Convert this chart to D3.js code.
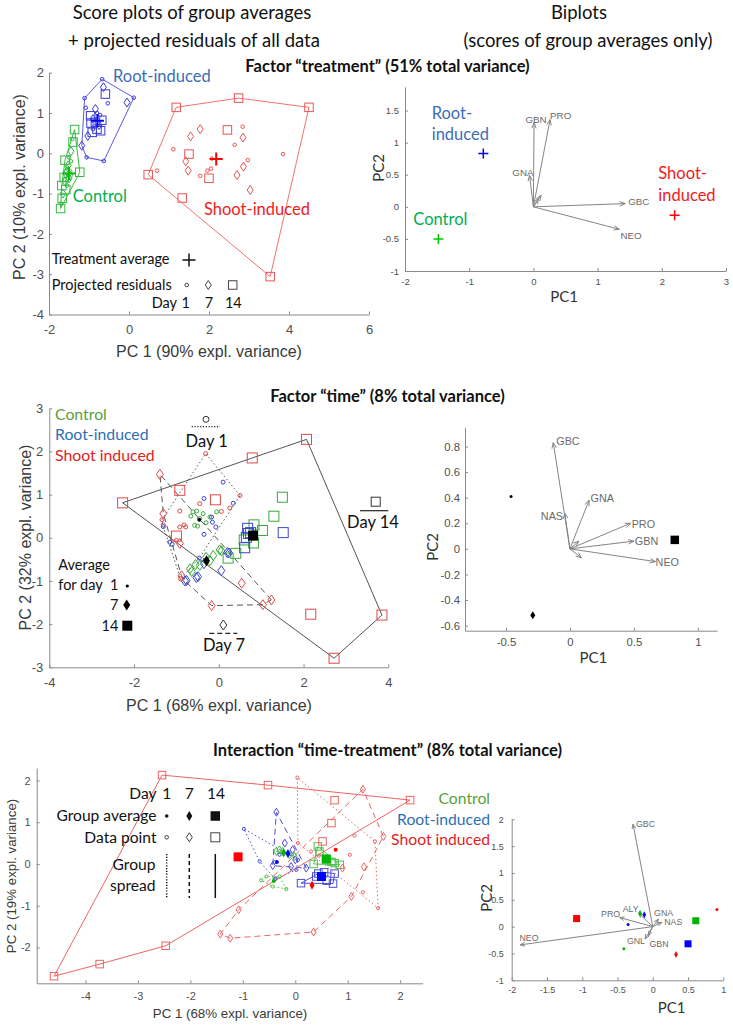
<!DOCTYPE html>
<html><head><meta charset="utf-8">
<script src="https://cdn.jsdelivr.net/npm/d3@7/dist/d3.min.js"></script>
<style>body{margin:0;background:#fff}svg{display:block}</style>
</head><body>
<script>
// ================= DATA =================
const dayLabels = ["1", "7", "14"];
// Panel 1 : Factor "treatment" score plot (PC1, PC2) – projected residuals by day
const trTicksX = [-2, 0, 2, 4, 6];
const trTicksY = [-4, -3, -2, -1, 0, 1, 2];
const trCtrlD1  = [[-1.42,0.35],[-1.45,-0.2],[-1.5,-0.1],[-1.55,-0.35],[-1.47,-0.45],[-1.52,-0.55],[-1.62,-0.65],[-1.55,-0.8],[-1.7,-1.25]];
const trCtrlD7  = [[-1.45,0.05],[-1.52,-0.3],[-1.55,-0.45],[-1.48,-0.55],[-1.6,-0.7],[-1.58,-0.5],[-1.5,-0.62],[-1.65,-1.0]];
const trCtrlD14 = [[-1.36,0.59],[-1.40,0.28],[-1.60,-0.17],[-1.23,-0.47],[-1.62,-0.60],[-1.68,-0.80],[-1.58,-0.90],[-1.67,-1.12],[-1.71,-1.37]];
const trRootD1  = [[-0.67,1.84],[0.12,1.38],[-0.63,-0.19],[-1.06,-0.10],[-1.11,1.37],[-0.53,1.24],[-1.08,1.13],[-0.8,1.0],[-0.9,0.6],[-0.72,0.95]];
const trRootD7  = [[-0.64,1.64],[-0.05,1.26],[-0.84,1.10],[-1.03,0.43],[-1.18,0.19],[-0.75,0.7],[-0.9,0.85]];
const trRootD14 = [[-0.59,1.47],[-0.96,0.93],[-0.92,0.52],[-0.71,0.56],[-0.84,0.77],[-0.95,0.75],[-0.8,0.6],[-0.68,0.82]];
const trShootD1  = [[2.84,0.66],[2.64,0.21],[1.11,0.1],[3.85,-0.02],[2.97,-0.17],[0.7,-0.43],[1.78,-0.56],[1.96,-0.43],[2.05,-0.38],[2.07,-0.13]];
const trShootD7  = [[1.78,0.6],[1.54,0.42],[2.85,0.39],[1.42,-0.2],[1.48,-0.43],[2.86,-0.33],[2.7,-0.54],[3.03,-0.91]];
const trShootD14 = [[1.18,1.14],[2.74,1.37],[4.5,1.14],[3.53,-3.06],[1.33,-1.11],[0.48,-0.53],[2.46,0.58],[1.5,-0.02],[2.0,-0.62]];
const trAverages = [[-1.5,-0.5],[-0.79,0.81],[2.18,-0.14]]; // Control, Root, Shoot

// Panel 2 : treatment biplot
const trBiTicksX = [-2, -1, 0, 1, 2, 3];
const trBiTicksY = [-1, -0.5, 0, 0.5, 1, 1.5];
const trLoadNames = ["GBN","PRO","GNA","GBC","NEO","",""];
const trLoadings  = [[0.01,1.31],[0.26,1.36],[-0.06,0.49],[1.43,0.05],[1.34,-0.35],[0.12,0.18],[0.08,0.13]];
const trBiScores  = [[-1.48,-0.5],[-0.78,0.83],[2.2,-0.13]];

// Panel 3 : Factor "time" score plot
const tmTicksX = [-4, -2, 0, 2, 4];
const tmTicksY = [-3, -2, -1, 0, 1, 2, 3];
const tmShootD1 = [[-0.31,1.95],[0.5,0.98],[-0.92,0.62],[-1.34,0.42],[-0.92,0.25],[-0.78,0.25],[0.06,0.61],[-1.0,-0.06],[-0.9,-0.95],[-0.45,0.79],[0.26,0.69],[-1.31,0.3],[-0.82,0.3]];
const tmCtrlD1  = [[-0.61,0.6],[-0.52,0.62],[-0.37,0.56],[-0.05,0.6],[-0.57,0.29],[-0.5,0.27],[-0.21,0.48],[-0.66,0.5],[-0.45,0.45],[-0.3,0.35]];
const tmRootD1  = [[0.1,1.29],[-0.35,0.91],[-0.17,0.48],[-0.15,0.36],[-0.35,0.08],[-0.07,0.25],[-1.16,-0.1],[-1.31,0.26],[-1.1,-0.15],[0.34,0.8],[-0.46,-0.47]];
const tmShootD7 = [[-1.39,1.47],[-1.31,0.56],[-0.88,-0.88],[-0.17,-1.57],[1.04,-1.55],[1.24,-1.44],[0.54,-1.05],[-0.92,-0.13]];
const tmCtrlD7  = [[-0.68,-0.72],[-0.45,-0.64],[-0.13,-0.41],[0.06,-0.3],[-0.21,-0.53],[-0.64,-0.78],[0.02,-0.28],[-0.3,-0.45],[-0.55,-0.62]];
const tmRootD7  = [[-0.76,-0.99],[-0.49,-0.9],[0.06,-0.76],[0.2,-0.34],[-0.53,-0.92],[-0.8,-1.0],[0.24,-0.35],[-0.35,-0.6]];
const tmShootD14 = [[-2.27,0.81],[2.07,2.28],[3.85,-1.79],[2.72,-2.79],[0.79,1.85],[-0.92,1.1],[-0.08,0.88],[-1.0,0.04],[2.17,-1.77]];
const tmCtrlD14  = [[1.5,0.94],[1.3,0.5],[1.03,0.17],[0.83,0.3],[0.82,-0.12],[0.6,-0.05],[0.4,-0.36],[0.22,-0.47]];
const tmRootD14  = [[1.52,0.12],[0.68,0.22],[0.61,-0.23],[0.65,0.01],[0.75,0.12],[0.7,0.1]];
const tmAverages = [[-0.46,0.42],[-0.29,-0.53],[0.81,0.05]]; // day 1, 7, 14

// Panel 4 : time biplot
const tmBiTicksX = [-0.5, 0, 0.5, 1];
const tmBiTicksY = [-0.6, -0.4, -0.2, 0, 0.2, 0.4, 0.6, 0.8];
const tmLoadNames = ["GBC","GNA","NAS","PRO","GBN","NEO","",""];
const tmLoadings  = [[-0.13,0.83],[0.15,0.38],[-0.04,0.28],[0.475,0.2],[0.5,0.06],[0.67,-0.1],[0.09,-0.07],[0.07,0.06]];
const tmBiScores  = [[-0.46,0.41],[-0.29,-0.52],[0.82,0.07]];

// Panel 5 : Interaction "time-treatment" score plot
const iaTicksX = [-4, -3, -2, -1, 0, 1, 2];
const iaTicksY = [-2, -1, 0, 1, 2];
const iaShootD14 = [[-2.54,2.13],[-0.52,1.89],[2.19,1.53],[0.75,1.53],[0.69,0.98],[0.52,0.54],[-2.47,-1.96],[-3.73,-2.4],[-4.6,-2.69]];
const iaShootD7  = [[1.29,1.79],[1.68,0.66],[1.31,-0.07],[1.07,-0.78],[0.35,-1.63],[-1.24,-1.78],[-1.43,-1.68],[-1.08,-1.1],[0.9,-0.1]];
const iaShootD1  = [[0.04,2.07],[1.52,0.54],[1.58,-1.06],[1.13,0.68],[1.04,0.22],[0.05,0.5],[1.29,-0.68],[0.3,0.3],[0.45,0.2]];
const iaRootD14  = [[0.11,-0.46],[0.72,-0.47],[0.75,-0.23],[0.44,-0.23],[0.55,-0.2],[0.4,-0.3],[0.6,-0.4]];
const iaRootD7   = [[-0.36,1.24],[0.21,-0.1],[-0.08,-0.06],[-0.43,-0.04],[-0.05,0.34],[-0.2,0.5],[0.0,0.1]];
const iaRootD1   = [[-0.98,0.84],[-0.68,0.06],[-0.38,-0.36],[-0.4,0.04],[0.02,-0.14],[-0.3,0.22],[0.05,0.1]];
const iaCtrlD14  = [[0.43,0.42],[0.6,0.11],[0.75,0.02],[0.85,-0.02],[0.46,0.3],[0.69,0.05],[0.35,0.0]];
const iaCtrlD7   = [[-0.3,0.34],[-0.24,0.3],[-0.11,0.22],[-0.36,0.3],[-0.01,0.18]];
const iaCtrlD1   = [[-0.65,-0.39],[-0.55,-0.3],[-0.4,-0.33],[-0.17,-0.6],[-0.43,-0.54],[-0.3,-0.3]];
const iaCtrlAvg  = [[-0.41,-0.41],[-0.22,0.27],[0.59,0.12]]; // day 1, 7, 14
const iaRootAvg  = [[-0.35,0.05],[-0.14,0.25],[0.5,-0.3]];
const iaShootAvg = [[0.77,0.34],[0.32,-0.51],[-1.09,0.17]];

// Panel 6 : interaction biplot
const iaBiTicksX = [-2, -1.5, -1, -0.5, 0, 0.5, 1];
const iaBiTicksY = [-1, -0.5, 0, 0.5, 1, 1.5, 2];
const iaLoadNames = ["GBC","PRO","ALY","GNA","NAS","NEO","GNL","GBN"];
const iaLoadings  = [[-0.28,1.91],[-0.47,0.17],[-0.2,0.25],[0.08,0.14],[0.13,0.08],[-1.88,-0.34],[-0.11,-0.23],[-0.06,-0.17]];
const iaBiCtrl  = [[-0.41,-0.41],[-0.18,0.25],[0.61,0.11]];
const iaBiRoot  = [[-0.35,0.04],[-0.12,0.22],[0.5,-0.32]];
const iaBiShoot = [[0.91,0.32],[0.33,-0.52],[-1.08,0.15]];

// ================= DRAWING =================
const W = 733, H = 1027;
const FA = "Lato, 'Open Sans', sans-serif";
const FX = "'Liberation Sans', Arial, Helvetica, sans-serif";
const AX_COL = "#8a8a8a", TK_COL = "#505050";
const svg = d3.select("body").append("svg").attr("width", W).attr("height", H);

function addText(x, y, s, o = {}) {
  const fs = o.fs || 16;
  const t = svg.append("text")
    .attr("font-family", o.family || FA)
    .attr("font-size", fs)
    .attr("fill", o.fill || "#111")
    .attr("font-weight", o.weight || "normal")
    .attr("text-anchor", o.anchor || "start");
  if (o.rotate) t.attr("transform", `translate(${x},${y}) rotate(-90)`).attr("x", 0).attr("y", fs * 0.35);
  else t.attr("x", x).attr("y", y + fs * 0.35);
  t.text(s);
  return t;
}

function makePanel(o) {
  const x = d3.scaleLinear().domain(o.xd).range(o.xr);
  const y = d3.scaleLinear().domain(o.yd).range(o.yr);
  const g = svg.append("g");
  const gx = g.append("g").attr("transform", `translate(0,${o.yr[0]})`)
    .call(d3.axisBottom(x).tickValues(o.xt).tickSizeInner(-3).tickSizeOuter(0).tickPadding(o.px).tickFormat(d => String(d)));
  const gy = g.append("g").attr("transform", `translate(${o.xr[0]},0)`)
    .call(d3.axisLeft(y).tickValues(o.yt).tickSizeInner(-3).tickSizeOuter(0).tickPadding(o.py).tickFormat(d => String(d)));
  [gx, gy].forEach(a => {
    a.attr("font-size", o.fs).attr("font-family", FX);
    a.select(".domain").attr("stroke", AX_COL);
    a.selectAll(".tick line").attr("stroke", AX_COL);
    a.selectAll(".tick text").attr("fill", TK_COL).attr("font-size", o.fs).attr("font-family", FX);
  });
  const layer = g.append("g");
  return { g: layer, x, y };
}

function mark(g, type, px, py, s) {
  let el;
  if (type === "c") el = g.append("circle").attr("cx", px).attr("cy", py).attr("r", s.r);
  else if (type === "d") el = g.append("path").attr("d", `M${px},${py - s.h / 2}L${px + s.w / 2},${py}L${px},${py + s.h / 2}L${px - s.w / 2},${py}Z`);
  else if (type === "s") el = g.append("rect").attr("x", px - s.size / 2).attr("y", py - s.size / 2).attr("width", s.size).attr("height", s.size);
  else if (type === "x") el = g.append("path").attr("d", `M${px - s.size / 2},${py}H${px + s.size / 2}M${px},${py - s.size / 2}V${py + s.size / 2}`);
  el.attr("fill", s.fill || "none").attr("stroke", s.stroke || "none").attr("stroke-width", s.sw || 1);
  return el;
}
function pts(p, data, type, s) { data.forEach(d => mark(p.g, type, p.x(d[0]), p.y(d[1]), s)); }
function hull(p, data, s) {
  const h = d3.polygonHull(data.map(d => [p.x(d[0]), p.y(d[1])]));
  p.g.append("path").attr("d", "M" + h.join("L") + "Z").attr("fill", "none")
    .attr("stroke", s.stroke).attr("stroke-width", s.sw || 1).attr("stroke-dasharray", s.dash || null);
}
function arrows(p, loads, names, lab, s) {
  const ox = p.x(0), oy = p.y(0);
  loads.forEach((d, i) => {
    const tx = p.x(d[0]), ty = p.y(d[1]);
    const a = Math.atan2(ty - oy, tx - ox), th = 0.38;
    const h1 = [tx - s.head * Math.cos(a - th), ty - s.head * Math.sin(a - th)];
    const h2 = [tx - s.head * Math.cos(a + th), ty - s.head * Math.sin(a + th)];
    p.g.append("path").attr("d", `M${ox},${oy}L${tx},${ty}M${h1}L${tx},${ty}L${h2}`)
      .attr("fill", "none").attr("stroke", "#858585").attr("stroke-width", 1);
    const n = names[i];
    if (n) {
      const c = lab[n];
      p.g.append("text").attr("x", tx + c[1]).attr("y", ty + c[2] + s.fs * 0.35)
        .attr("text-anchor", c[0]).attr("font-family", FX).attr("font-size", s.fs).attr("fill", "#6a6a6a").text(n);
    }
  });
}

// ---------- headers ----------
addText(192, 13, "Score plots of group averages", { fs: 18.5, anchor: "middle" });
addText(194, 41, "+ projected residuals of all data", { fs: 18.5, anchor: "middle" });
addText(579, 13, "Biplots", { fs: 18.5, anchor: "middle" });
addText(588, 41, "(scores of group averages only)", { fs: 18.5, anchor: "middle" });

const TCOL = { ctrl: "#00b050", root: "#3d6db5", shoot: "#ee1c1c" };
const TCOL2 = { ctrl: "#5a9f3c", root: "#2e6fb6", shoot: "#e81c1c" };

// ---------- Panel 1 ----------
addText(387.5, 66.7, "Factor “treatment” (51% total variance)", { fs: 16.5, anchor: "middle", weight: "bold" });
const pA = makePanel({ xd: [-2, 6], yd: [-4, 2], xr: [49, 369], yr: [314.5, 72.7], xt: trTicksX, yt: trTicksY, fs: 13, px: 10, py: 5 });
const stA = { c: { r: 1.8 }, d: { w: 6, h: 9 }, s: { size: 8.5 } };
const grpA = [
  { d: [trCtrlD1, trCtrlD7, trCtrlD14], col: "#35b845", hc: "#3cbb3c", avg: trAverages[0], ac: "#00c000" },
  { d: [trRootD1, trRootD7, trRootD14], col: "#3b3bd8", hc: "#5a5ae0", avg: trAverages[1], ac: "#0000ff" },
  { d: [trShootD1, trShootD7, trShootD14], col: "#e85555", hc: "#f07272", avg: trAverages[2], ac: "#ff0000" }
];
grpA.forEach(gr => hull(pA, gr.d[0].concat(gr.d[1], gr.d[2]), { stroke: gr.hc }));
grpA.forEach(gr => {
  pts(pA, gr.d[0], "c", { ...stA.c, stroke: gr.col });
  pts(pA, gr.d[1], "d", { ...stA.d, stroke: gr.col });
  pts(pA, gr.d[2], "s", { ...stA.s, stroke: gr.col });
});
grpA.forEach(gr => mark(pA.g, "x", pA.x(gr.avg[0]), pA.y(gr.avg[1]), { size: 13, stroke: gr.ac, sw: 2 }));
addText(113, 76.7, "Root-induced", { fs: 16.5, fill: TCOL.root });
addText(72.7, 196.7, "Control", { fs: 16.5, fill: TCOL.ctrl });
addText(204, 209.3, "Shoot-induced", { fs: 16.5, fill: TCOL.shoot });
addText(51.7, 259.3, "Treatment average", { fs: 14.5 });
mark(svg, "x", 189, 260, { size: 13, stroke: "#111", sw: 1.5 });
addText(51.7, 285, "Projected residuals", { fs: 14.5 });
mark(svg, "c", 186.7, 285, { r: 1.8, stroke: "#444" });
mark(svg, "d", 208.3, 285, { w: 6, h: 9, stroke: "#444" });
mark(svg, "s", 232.7, 285, { size: 8.5, stroke: "#444" });
addText(151.7, 302.7, "Day", { fs: 14.5 });
dayLabels.forEach((t, i) => addText([185.7, 209, 233.3][i], 302.7, t, { fs: 14.5, anchor: "middle" }));
addText(19, 187, "PC 2 (10% expl. variance)", { fs: 16, anchor: "middle", rotate: true, family: FX, fill: "#3a3a3a" });
addText(209, 351, "PC 1 (90% expl. variance)", { fs: 16, anchor: "middle", family: FX, fill: "#3a3a3a" });

// ---------- Panel 2 ----------
const pB = makePanel({ xd: [-2, 3], yd: [-1, 1.87], xr: [405, 726], yr: [271, 86.8], xt: trBiTicksX, yt: trBiTicksY, fs: 9.5, px: 7, py: 6 });
arrows(pB, trLoadings, trLoadNames, {
  GBN: ["middle", 2, -3], PRO: ["start", 0, -4], GNA: ["end", 4, -3], GBC: ["start", 3, -2.5], NEO: ["start", 1, 6]
}, { head: 6, fs: 9.8 });
["#00c800", "#0000ff", "#ff0000"].forEach((c, i) =>
  mark(pB.g, "x", pB.x(trBiScores[i][0]), pB.y(trBiScores[i][1]), { size: 10, stroke: c, sw: 1.5 }));
addText(431.7, 113.3, "Root-", { fs: 16.5, fill: TCOL.root });
addText(431.7, 134.3, "induced", { fs: 16.5, fill: TCOL.root });
addText(413.3, 219, "Control", { fs: 16.5, fill: TCOL.ctrl });
addText(658.3, 173.3, "Shoot-", { fs: 16.5, fill: TCOL.shoot });
addText(658.3, 195.3, "induced", { fs: 16.5, fill: TCOL.shoot });
addText(564, 297, "PC1", { fs: 15, anchor: "middle", fill: "#333" });
addText(379, 168, "PC2", { fs: 15, anchor: "middle", rotate: true, fill: "#333" });

// ---------- Panel 3 ----------
addText(387.5, 396.7, "Factor “time” (8% total variance)", { fs: 16.5, anchor: "middle", weight: "bold" });
const pC = makePanel({ xd: [-4, 4], yd: [-3, 3], xr: [49.3, 388.3], yr: [667.3, 408.3], xt: tmTicksX, yt: tmTicksY, fs: 13, px: 10, py: 6 });
const HC = "#555";
hull(pC, tmShootD1.concat(tmCtrlD1, tmRootD1), { stroke: HC, dash: "1.5,2.5" });
hull(pC, tmShootD7.concat(tmCtrlD7, tmRootD7), { stroke: HC, dash: "6,4" });
hull(pC, tmShootD14.concat(tmCtrlD14, tmRootD14), { stroke: HC });
const cC = { ctrl: "#3aaa3a", root: "#3a48d0", shoot: "#e24848" };
const stC = { c: { r: 2 }, d: { w: 7, h: 10 }, s: { size: 10 } };
[[tmShootD14, cC.shoot], [tmCtrlD14, cC.ctrl], [tmRootD14, cC.root]].forEach(a => pts(pC, a[0], "s", { ...stC.s, stroke: a[1] }));
[[tmShootD7, cC.shoot], [tmCtrlD7, cC.ctrl], [tmRootD7, cC.root]].forEach(a => pts(pC, a[0], "d", { ...stC.d, stroke: a[1] }));
[[tmShootD1, cC.shoot], [tmCtrlD1, cC.ctrl], [tmRootD1, cC.root]].forEach(a => pts(pC, a[0], "c", { ...stC.c, stroke: a[1] }));
mark(pC.g, "c", pC.x(tmAverages[0][0]), pC.y(tmAverages[0][1]), { r: 2, fill: "#000" });
mark(pC.g, "d", pC.x(tmAverages[1][0]), pC.y(tmAverages[1][1]), { w: 7, h: 11, fill: "#000" });
mark(pC.g, "s", pC.x(tmAverages[2][0]), pC.y(tmAverages[2][1]), { size: 10, fill: "#000" });
addText(55, 414, "Control", { fs: 15.8, fill: TCOL2.ctrl });
addText(55, 434.3, "Root-induced", { fs: 15.8, fill: TCOL2.root });
addText(55, 455, "Shoot induced", { fs: 15.8, fill: TCOL2.shoot });
// day markers
mark(svg, "c", 206, 419.3, { r: 3, stroke: "#333" });
svg.append("line").attr("x1", 191.7).attr("x2", 220).attr("y1", 426.7).attr("y2", 426.7).attr("stroke", "#222").attr("stroke-width", 1.2).attr("stroke-dasharray", "1.2,1.6");
addText(206.7, 441, "Day 1", { fs: 16.5, anchor: "middle" });
mark(svg, "s", 375.7, 501.7, { size: 9, stroke: "#333" });
svg.append("line").attr("x1", 360).attr("x2", 388.3).attr("y1", 510.7).attr("y2", 510.7).attr("stroke", "#222").attr("stroke-width", 1.2);
addText(373, 522.7, "Day 14", { fs: 16.5, anchor: "middle" });
mark(svg, "d", 223.3, 625, { w: 7, h: 10, stroke: "#333" });
svg.append("line").attr("x1", 209.3).attr("x2", 237.3).attr("y1", 633.3).attr("y2", 633.3).attr("stroke", "#222").attr("stroke-width", 1.2).attr("stroke-dasharray", "5,3");
addText(224, 645.7, "Day 7", { fs: 16.5, anchor: "middle" });
addText(58.3, 565, "Average", { fs: 14.5 });
addText(58.3, 585, "for day", { fs: 14.5 });
addText(118.3, 585, "1", { fs: 14.5, anchor: "end" });
addText(118.3, 605, "7", { fs: 14.5, anchor: "end" });
addText(118.3, 625.7, "14", { fs: 14.5, anchor: "end" });
mark(svg, "c", 127.3, 586, { r: 1.6, fill: "#000" });
mark(svg, "d", 126.7, 605, { w: 7, h: 11, fill: "#000" });
mark(svg, "s", 127.3, 625.7, { size: 10, fill: "#000" });
addText(25, 537.5, "PC 2 (32% expl. variance)", { fs: 16, anchor: "middle", rotate: true, family: FX, fill: "#3a3a3a" });
addText(219, 705, "PC 1 (68% expl. variance)", { fs: 16, anchor: "middle", family: FX, fill: "#3a3a3a" });

// ---------- Panel 4 ----------
const pD = makePanel({ xd: [-0.82, 1.15], yd: [-0.64, 0.95], xr: [465, 717], yr: [630.7, 427.3], xt: tmBiTicksX, yt: tmBiTicksY, fs: 11.3, px: 7, py: 5 });
arrows(pD, tmLoadings, tmLoadNames, {
  GBC: ["start", 3, -1.6], GNA: ["start", 1.5, -2.4], NAS: ["end", -1.7, 3.4], PRO: ["start", 1, 0.7], GBN: ["start", 1, 0], NEO: ["start", 0, 0.6]
}, { head: 6, fs: 10.8 });
mark(pD.g, "c", pD.x(tmBiScores[0][0]), pD.y(tmBiScores[0][1]), { r: 1.5, fill: "#000" });
mark(pD.g, "d", pD.x(tmBiScores[1][0]), pD.y(tmBiScores[1][1]), { w: 5, h: 8, fill: "#000" });
mark(pD.g, "s", pD.x(tmBiScores[2][0]), pD.y(tmBiScores[2][1]), { size: 8.5, fill: "#000" });
addText(593.3, 658, "PC1", { fs: 15, anchor: "middle", fill: "#333" });
addText(432.5, 547, "PC2", { fs: 15, anchor: "middle", rotate: true, fill: "#333" });

// ---------- Panel 5 ----------
addText(387.5, 750.7, "Interaction “time-treatment” (8% total variance)", { fs: 16.5, anchor: "middle", weight: "bold" });
const pE = makePanel({ xd: [-4.93, 2.43], yd: [-2.86, 2.3], xr: [36.7, 422.7], yr: [983.3, 768], xt: iaTicksX, yt: iaTicksY, fs: 11, px: 9, py: 6 });
const cE = { ctrl: "#4cbf4c", root: "#4d4ddb", shoot: "#ee6464" };
const DASH = ["1.5,2.5", "6,4", null];
const grpE = [
  { d: [iaCtrlD1, iaCtrlD7, iaCtrlD14], col: cE.ctrl, avg: iaCtrlAvg, ac: "#00b400" },
  { d: [iaRootD1, iaRootD7, iaRootD14], col: cE.root, avg: iaRootAvg, ac: "#0000ff" },
  { d: [iaShootD1, iaShootD7, iaShootD14], col: cE.shoot, avg: iaShootAvg, ac: "#ff0000" }
];
grpE.forEach(gr => gr.d.forEach((dd, k) => hull(pE, dd, { stroke: gr.col, dash: DASH[k] })));
const stE = { c: { r: 1.6 }, d: { w: 5, h: 8 }, s: { size: 7.5 } };
grpE.forEach(gr => {
  pts(pE, gr.d[0], "c", { ...stE.c, stroke: gr.col });
  pts(pE, gr.d[1], "d", { ...stE.d, stroke: gr.col });
  pts(pE, gr.d[2], "s", { ...stE.s, stroke: gr.col });
});
grpE.forEach(gr => {
  mark(pE.g, "c", pE.x(gr.avg[0][0]), pE.y(gr.avg[0][1]), { r: 2, fill: gr.ac });
  mark(pE.g, "d", pE.x(gr.avg[1][0]), pE.y(gr.avg[1][1]), { w: 5, h: 9, fill: gr.ac });
  mark(pE.g, "s", pE.x(gr.avg[2][0]), pE.y(gr.avg[2][1]), { size: 9, fill: gr.ac });
});
addText(156.5, 793.3, "Day", { fs: 15.6, anchor: "end" });
dayLabels.forEach((t, i) => addText([166.7, 189.3, 216][i], 793.3, t, { fs: 15.6, anchor: "middle" }));
addText(156.5, 816, "Group average", { fs: 15.6, anchor: "end" });
addText(156.5, 837.3, "Data point", { fs: 15.6, anchor: "end" });
addText(155.5, 865, "Group", { fs: 15.6, anchor: "end" });
addText(155.5, 886, "spread", { fs: 15.6, anchor: "end" });
mark(svg, "c", 166.7, 816, { r: 1.8, fill: "#111" });
mark(svg, "d", 189.3, 816, { w: 6, h: 10, fill: "#111" });
mark(svg, "s", 215.3, 816, { size: 9.5, fill: "#111" });
mark(svg, "c", 166.7, 837.3, { r: 1.8, stroke: "#444" });
mark(svg, "d", 189.3, 837.3, { w: 6, h: 9, stroke: "#444" });
mark(svg, "s", 215.3, 837.3, { size: 9, stroke: "#444" });
[[166.7, "1.2,1.6"], [189.3, "4,3"], [215.3, null]].forEach(a =>
  svg.append("line").attr("x1", a[0]).attr("x2", a[0]).attr("y1", 854).attr("y2", 898)
    .attr("stroke", "#111").attr("stroke-width", 1.5).attr("stroke-dasharray", a[1]));
addText(490, 798.3, "Control", { fs: 15.7, anchor: "end", fill: TCOL2.ctrl });
addText(490, 819.3, "Root-induced", { fs: 15.7, anchor: "end", fill: TCOL2.root });
addText(490, 839.3, "Shoot induced", { fs: 15.7, anchor: "end", fill: TCOL2.shoot });
addText(11, 876, "PC 2 (19% expl. variance)", { fs: 13.3, anchor: "middle", rotate: true, family: FX, fill: "#3a3a3a" });
addText(230, 1013.3, "PC 1 (68% expl. variance)", { fs: 13.3, anchor: "middle", family: FX, fill: "#3a3a3a" });

// ---------- Panel 6 ----------
const pF = makePanel({ xd: [-2, 1], yd: [-1, 2], xr: [511.7, 723.3], yr: [980.3, 819.3], xt: iaBiTicksX, yt: iaBiTicksY, fs: 9, px: 6.5, py: 8 });
arrows(pF, iaLoadings, iaLoadNames, {
  GBC: ["start", 3, 0], PRO: ["end", 0.5, -4], ALY: ["end", 0, -4.4], GNA: ["start", -4.3, -6.6],
  NAS: ["start", 2.3, 0], NEO: ["start", -0.7, -7.3], GNL: ["end", 0, 1.7], GBN: ["start", 1, 8.3]
}, { head: 5, fs: 8.8 });
[[iaBiCtrl, "#00b400"], [iaBiRoot, "#0000ff"], [iaBiShoot, "#ff0000"]].forEach(a => {
  mark(pF.g, "c", pF.x(a[0][0][0]), pF.y(a[0][0][1]), { r: 1.5, fill: a[1] });
  mark(pF.g, "d", pF.x(a[0][1][0]), pF.y(a[0][1][1]), { w: 3.5, h: 7, fill: a[1] });
  mark(pF.g, "s", pF.x(a[0][2][0]), pF.y(a[0][2][1]), { size: 7, fill: a[1] });
});
addText(671.7, 1008, "PC1", { fs: 15, anchor: "middle", fill: "#333" });
addText(486.7, 898, "PC2", { fs: 15, anchor: "middle", rotate: true, fill: "#333" });
</script>
</body></html>
